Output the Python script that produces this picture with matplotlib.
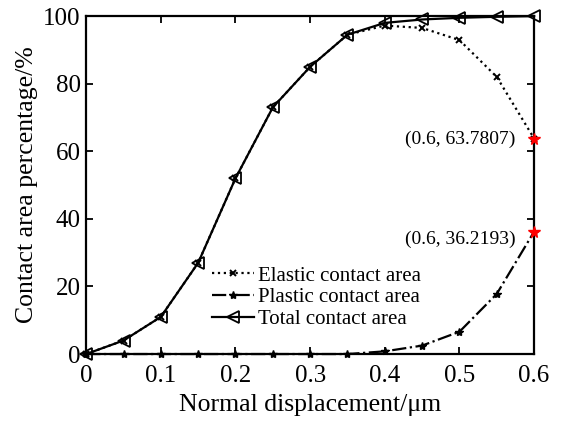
import matplotlib
matplotlib.use("Agg")
import matplotlib.pyplot as plt

plt.rcParams['font.family'] = ['Liberation Serif', 'DejaVu Serif']

x = [0, 0.05, 0.1, 0.15, 0.2, 0.25, 0.3, 0.35, 0.4, 0.45, 0.5, 0.55, 0.6]
total = [0, 4, 11, 27, 52, 73, 85, 94.5, 98, 99, 99.5, 99.8, 100]
plastic = [0, 0, 0, 0, 0, 0, 0, 0, 0.8, 2.5, 6.6, 17.8, 36.2193]
elastic = [0, 4, 11, 27, 52, 73, 85, 94.5, 97.2, 96.5, 92.9, 82.0, 63.7807]

fig = plt.figure(figsize=(5.67, 4.24), dpi=100)
ax = fig.add_axes([0.152, 0.165, 0.79, 0.797])

ax.plot(x, elastic, ':x', color='black', lw=1.6, ms=5, mew=1.4, clip_on=False, label='Elastic contact area')
ax.plot(x, plastic, '-.*', color='black', lw=1.6, ms=6, clip_on=False, label='Plastic contact area')
ax.plot(x, total, '-<', color='black', lw=1.6, ms=9, mfc='none', mew=1.3, clip_on=False, label='Total contact area')

# highlighted end points
ax.plot(x[-1], elastic[-1], '*', color='red', ms=8.5, clip_on=False, zorder=5)
ax.plot(x[-1], plastic[-1], '*', color='red', ms=8.5, clip_on=False, zorder=5)
ax.text(0.575, elastic[-1] - 0.2, '(0.6, 63.7807)', ha='right', va='center', fontsize=14)
ax.text(0.575, plastic[-1] - 2.4, '(0.6, 36.2193)', ha='right', va='center', fontsize=14)

ax.set_xlim(0, 0.6)
ax.set_ylim(0, 100)
ax.set_xticks([0, 0.1, 0.2, 0.3, 0.4, 0.5, 0.6])
ax.set_xticklabels(['0', '0.1', '0.2', '0.3', '0.4', '0.5', '0.6'])
ax.set_yticks([0, 20, 40, 60, 80, 100])
ax.tick_params(direction='in', top=True, right=True, labelsize=18, width=1.3, length=5)
ax.tick_params(axis='x', pad=8)
ax.tick_params(axis='y', pad=4)
for s in ax.spines.values():
    s.set_linewidth(1.6)

ax.set_xlabel('Normal displacement/μm', fontsize=18.5, labelpad=5)
ax.set_ylabel('Contact area percentage/%', fontsize=18.5, labelpad=4)

ax.legend(loc='upper left', bbox_to_anchor=(0.263, 0.285), frameon=False, fontsize=15,
          handlelength=2.0, handletextpad=0.2, labelspacing=0.1, borderaxespad=0)

fig.savefig('out.png', dpi=100)
